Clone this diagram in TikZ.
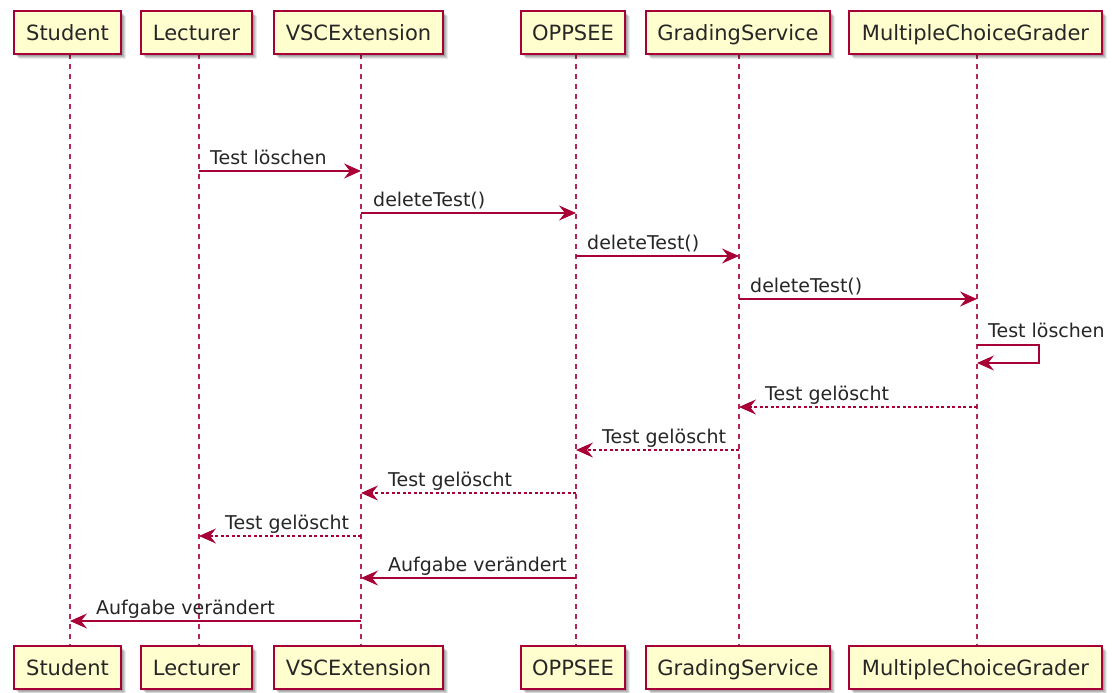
\documentclass[tikz,border=0pt]{standalone}
\usepackage{fontspec}
\setmainfont{DejaVu Sans}
\usetikzlibrary{arrows.meta}
\definecolor{pred}{HTML}{A80036}
\definecolor{pfill}{HTML}{FEFECE}
\tikzset{
  lifeline/.style={pred!85, line width=1.1pt, dash pattern=on 5pt off 5pt},
  msg/.style={pred, line width=1.4pt, -{Stealth[length=17pt,width=15pt,inset=6pt]}},
  ret/.style={msg, dash pattern=on 3pt off 2.5pt},
  mlabel/.style={anchor=base west, inner sep=0pt, font=\fontsize{19}{23}\selectfont, text=black!85},
  plabel/.style={anchor=base, inner sep=0pt, font=\fontsize{21}{25}\selectfont, text=black!85},
}
\newcommand{\pbox}[5]{% name, x1, x2, ytop, text
  \foreach \o/\a in {5/0.08,4/0.10,3/0.12,2/0.12}{
    \fill[black, opacity=\a] (#2+\o,#4+\o) rectangle (#3+\o,#4+43+\o);}
  \draw[pred, fill=pfill, line width=1.5pt] (#2,#4) rectangle (#3,#4+43);
  \node[plabel] (#1) at ({(#2+#3)/2},#4+29.5) {#5};
}
\begin{document}
\begin{tikzpicture}[x=1pt,y=-1pt]
\useasboundingbox (0,0) rectangle (1112,693);
\fill[white] (0,0) rectangle (1112,693);
% lifelines
\foreach \n/\x in {s/70,l/199,v/361,o/576,g/739,m/977}{
  \coordinate (\n t) at (\x,54);
  \coordinate (\n b) at (\x,646);
  \draw[lifeline] (\n t) -- (\n b);
}
% participant boxes
\pbox{Student}{14}{121}{11}{Student}
\pbox{Lecturer}{141}{252}{11}{Lecturer}
\pbox{VSC}{274}{443}{11}{VSCExtension}
\pbox{OPP}{521}{625}{11}{OPPSEE}
\pbox{GS}{646}{830}{11}{GradingService}
\pbox{MCG}{849}{1102}{11}{MultipleChoiceGrader}
\pbox{Student2}{14}{121}{646}{Student}
\pbox{Lecturer2}{141}{252}{646}{Lecturer}
\pbox{VSC2}{274}{443}{646}{VSCExtension}
\pbox{OPP2}{521}{625}{646}{OPPSEE}
\pbox{GS2}{646}{830}{646}{GradingService}
\pbox{MCG2}{849}{1102}{646}{MultipleChoiceGrader}
% message endpoints
\coordinate (l1) at (199,171); \coordinate (v1) at (361,171);
\coordinate (v2) at (361,213); \coordinate (o2) at (576,213);
\coordinate (o3) at (576,256); \coordinate (g3) at (739,256);
\coordinate (g4) at (739,299); \coordinate (m4) at (977,299);
\coordinate (m5a) at (977,345); \coordinate (m5b) at (1039,345);
\coordinate (m5c) at (1039,363); \coordinate (m5d) at (977,363);
\coordinate (m6) at (977,407); \coordinate (g6) at (739,407);
\coordinate (g7) at (739,450); \coordinate (o7) at (576,450);
\coordinate (o8) at (576,493); \coordinate (v8) at (361,493);
\coordinate (v9) at (361,536); \coordinate (l9) at (199,536);
\coordinate (o10) at (576,578); \coordinate (v10) at (361,578);
\coordinate (v11) at (361,621); \coordinate (s11) at (70,621);
% messages
\draw[msg] (l1) -- (v1);
\node[mlabel] (t1) at (210,164) {Test löschen};
\draw[msg] (v2) -- (o2);
\node[mlabel] (t2) at (373,206) {deleteTest()};
\draw[msg] (o3) -- (g3);
\node[mlabel] (t3) at (587,249) {deleteTest()};
\draw[msg] (g4) -- (m4);
\node[mlabel] (t4) at (750,292) {deleteTest()};
\draw[msg] (m5a) -- (m5b) -- (m5c) -- (m5d);
\node[mlabel] (t5) at (988,337) {Test löschen};
\draw[ret] (m6) -- (g6);
\node[mlabel] (t6) at (765,400) {Test gelöscht};
\draw[ret] (g7) -- (o7);
\node[mlabel] (t7) at (602,443) {Test gelöscht};
\draw[ret] (o8) -- (v8);
\node[mlabel] (t8) at (388,486) {Test gelöscht};
\draw[ret] (v9) -- (l9);
\node[mlabel] (t9) at (225,529) {Test gelöscht};
\draw[msg] (o10) -- (v10);
\node[mlabel] (t10) at (388,571) {Aufgabe verändert};
\draw[msg] (v11) -- (s11);
\node[mlabel] (t11) at (96,614) {Aufgabe verändert};
\end{tikzpicture}
\end{document}
